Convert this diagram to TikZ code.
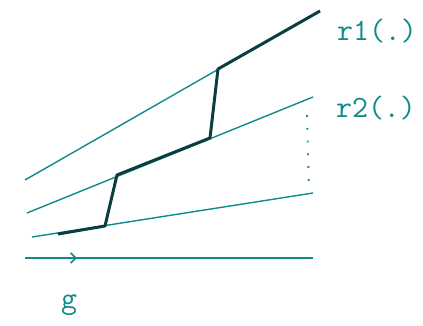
\documentclass[tikz,border=0pt]{standalone}
\usepackage{fontspec}
\usetikzlibrary{arrows.meta,decorations.markings}
\definecolor{ScanTeal}{HTML}{0E8A8A}
\definecolor{InkTeal}{HTML}{0B3E40}

\begin{document}
\begin{tikzpicture}[
    x=0.5pt, y=-0.5pt,
    thinline/.style={draw=ScanTeal, line width=0.7pt},
    pathline/.style={draw=InkTeal, line width=1.5pt, line join=round},
    guide/.style={draw=ScanTeal, line width=0.9pt, dash pattern=on 0.9pt off 5.5pt},
    lbl/.style={text=ScanTeal, font=\ttfamily\fontsize{15.5}{16}\selectfont, inner sep=0pt},
    tickarrow/.style={postaction={decorate}, decoration={markings,
        mark=at position 0.18 with {\arrow[ScanTeal]{Straight Barb[length=2.5pt, width=5pt, line width=0.8pt]}}}}
  ]
    \useasboundingbox (0,0) rectangle (423,326);
    % the three rays
    \coordinate (r1a) at (25,180);  \coordinate (r1b) at (320,11);
    \coordinate (r2a) at (27,213);  \coordinate (r2b) at (313,97);
    \coordinate (r3a) at (32,237);  \coordinate (r3b) at (313,193);
    \coordinate (ga) at (25,258);   \coordinate (gb) at (313,258);
    \draw[thinline] (r1a) -- (r1b);
    \draw[thinline] (r2a) -- (r2b);
    \draw[thinline] (r3a) -- (r3b);
    \draw[thinline, tickarrow] (ga) -- (gb);
    % dotted drop
    \coordinate (dtop) at (307,115);
    \coordinate (dbot) at (309,191);
    \draw[guide] (dtop) -- (dbot);
    % staircase path
    \coordinate (p0) at (58,234);
    \coordinate (p1) at (105,226);
    \coordinate (p2) at (117,175);
    \coordinate (p3) at (210,138);
    \coordinate (p4) at (218,69);
    \draw[pathline] (p0) -- (p1) -- (p2) -- (p3) -- (p4) -- (r1b);
    % labels
    \node[lbl] (r1lbl) at (377,31) {r1(.)};
    \node[lbl] (r2lbl) at (376,108) {r2(.)};
    \node[lbl] (glbl) at (69,305) {g};
  \end{tikzpicture}
\end{document}
